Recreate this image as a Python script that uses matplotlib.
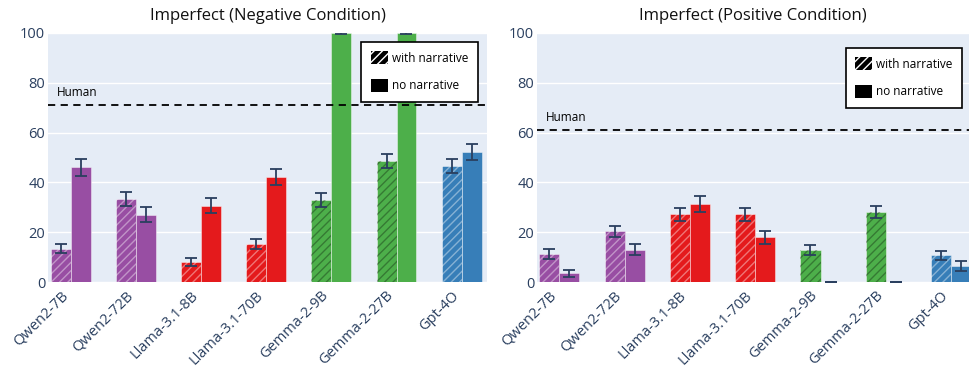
import matplotlib.pyplot as plt
from matplotlib.patches import Patch

plt.rcParams['font.family'] = ['Open Sans', 'DejaVu Sans']
plt.rcParams['hatch.linewidth'] = 1.0

models = ['Qwen2-7B', 'Qwen2-72B', 'Llama-3.1-8B', 'Llama-3.1-70B',
          'Gemma-2-9B', 'Gemma-2-27B', 'Gpt-4O']
colors = ['#984ea3', '#984ea3', '#e41a1c', '#e41a1c', '#4daf4a', '#4daf4a', '#377eb8']
hatch_colors = [(1, 1, 1, 0.4)] * 4 + [(0, 0, 0, 0.3)] * 2 + [(1, 1, 1, 0.4)]

# negative condition
neg_with = [13.4, 33.3, 8.1, 15.3, 32.9, 48.6, 46.6]
neg_with_err = [1.7, 2.7, 1.6, 2.0, 2.7, 2.8, 2.7]
neg_no = [46.0, 27.1, 30.7, 42.1, 100.0, 100.0, 52.1]
neg_no_err = [3.3, 3.0, 3.1, 3.2, 0.3, 0.3, 3.3]
neg_human = 71

# positive condition
pos_with = [11.4, 20.3, 27.2, 27.2, 12.8, 28.3, 10.7]
pos_with_err = [2.0, 2.1, 2.6, 2.6, 1.9, 2.4, 1.9]
pos_no = [3.5, 13.0, 31.4, 17.9, 0.0, 0.0, 6.4]
pos_no_err = [1.5, 2.3, 3.1, 2.6, 0.0, 0.0, 1.9]
pos_human = 61

BG = '#e5ecf6'
TXT = '#2a3f5f'
W = 0.307

fig = plt.figure(figsize=(9.69, 3.72), dpi=100)
ax1 = fig.add_axes([48 / 969, 90 / 372, 439 / 969, 249 / 372])
ax2 = fig.add_axes([537 / 969, 90 / 372, 432 / 969, 249 / 372])


def draw(ax, title, w, we, n, ne, human, xlim, hy_text):
    ax.set_facecolor(BG)
    x = list(range(len(models)))
    xw = [i - W / 2 for i in x]
    xn = [i + W / 2 for i in x]
    ax.bar(xw, w, W, color=colors, edgecolor=(1, 1, 1, 0.5), linewidth=0.6, zorder=2)
    for xi, v, hc in zip(xw, w, hatch_colors):
        ax.bar(xi, v, W, color='none', edgecolor=hc, linewidth=0, hatch='////', zorder=3)
    ax.bar(xn, n, W, color=colors, edgecolor=(1, 1, 1, 0.5), linewidth=0.6, zorder=2)
    ax.errorbar(xw, w, yerr=we, fmt='none', ecolor=TXT, elinewidth=1.3,
                capsize=4, capthick=1.3, zorder=4)
    ax.errorbar(xn, n, yerr=ne, fmt='none', ecolor=TXT, elinewidth=1.3,
                capsize=4, capthick=1.3, zorder=4)
    ax.axhline(human, color='black', linestyle=(0, (4, 3)), linewidth=1.3, zorder=5)
    ax.text(0.02, hy_text, 'Human', transform=ax.transAxes, fontsize=8.5,
            color='black', va='bottom')
    ax.set_xlim(*xlim)
    ax.set_ylim(0, 100)
    ax.set_yticks([0, 20, 40, 60, 80, 100])
    ax.set_xticks(x)
    ax.set_xticklabels(models, rotation=45, ha='right', va='bottom',
                       rotation_mode='anchor')
    ax.tick_params(axis='both', length=0, labelsize=10.5, colors=TXT)
    ax.tick_params(axis='y', pad=2)
    ax.tick_params(axis='x', pad=12)
    ax.grid(axis='y', color='white', linewidth=1.0, zorder=0)
    ax.set_axisbelow(True)
    for s in ax.spines.values():
        s.set_visible(False)
    ax.set_title(title, fontsize=12, color='#111111', pad=9)


draw(ax1, 'Imperfect (Negative Condition)', neg_with, neg_with_err, neg_no, neg_no_err,
     neg_human, (-0.353, 6.39), (neg_human + 2.5) / 100)
draw(ax2, 'Imperfect (Positive Condition)', pos_with, pos_with_err, pos_no, pos_no_err,
     pos_human, (-0.342, 6.274), (pos_human + 2.5) / 100)

handles = [Patch(facecolor='black', edgecolor='white', hatch='////', linewidth=0),
           Patch(facecolor='black', edgecolor='black', linewidth=0)]
labels = ['with narrative', 'no narrative']
for ax, anchor in [(ax1, (0.979, 0.964)), (ax2, (0.984, 0.94))]:
    leg = ax.legend(handles, labels, loc='upper right', bbox_to_anchor=anchor,
                    borderaxespad=0, fontsize=8.5, frameon=True, fancybox=False,
                    framealpha=1, edgecolor='black', handlelength=1.45,
                    handleheight=1.3, handletextpad=0.35, labelspacing=1.2,
                    borderpad=0.8)
    leg.get_frame().set_linewidth(1.2)
    leg.set_zorder(10)

fig.savefig('out.png', dpi=100)
